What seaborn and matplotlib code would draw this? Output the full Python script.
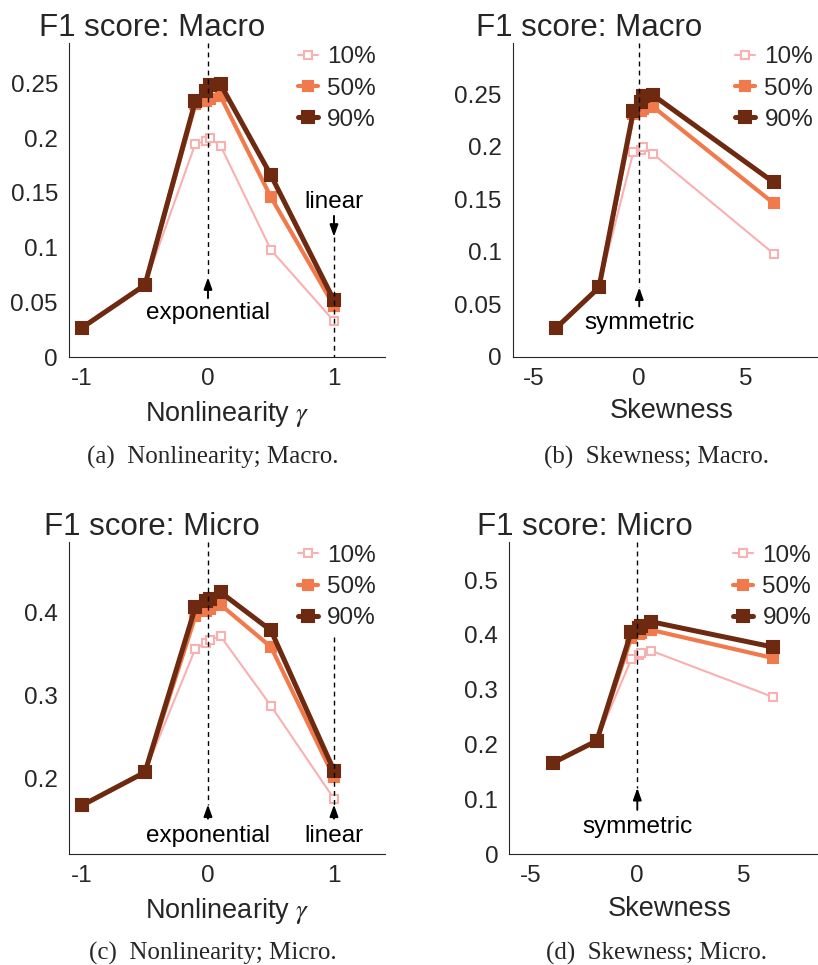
import numpy as np
import matplotlib
matplotlib.use("Agg")
import matplotlib.pyplot as plt
import pandas as pd
import seaborn as sns

# data
gamma = [-1, -0.5, -0.1, -0.015, 0.015, 0.1, 0.5, 1]
skew = [-3.94, -1.9, -0.28, 0.08, 0.18, 0.66, 6.35]   # same runs, gamma=1 left out

series = ["10%", "50%", "90%"]
macro = {
    "10%": [0.027, 0.066, 0.195, 0.197, 0.200, 0.193, 0.098, 0.033],
    "50%": [0.027, 0.066, 0.231, 0.234, 0.236, 0.238, 0.146, 0.047],
    "90%": [0.027, 0.066, 0.234, 0.243, 0.248, 0.249, 0.166, 0.052],
}
micro = {
    "10%": [0.167, 0.207, 0.356, 0.363, 0.367, 0.371, 0.287, 0.175],
    "50%": [0.167, 0.207, 0.395, 0.401, 0.404, 0.409, 0.358, 0.201],
    "90%": [0.167, 0.207, 0.406, 0.413, 0.416, 0.424, 0.378, 0.209],
}

colors = {"10%": "#f9b0b0", "50%": "#f07a4c", "90%": "#6e2a10"}
lws = {"10%": 1.5, "50%": 3.0, "90%": 3.6}
msz = {"10%": 6, "50%": 7.5, "90%": 8.5}
mfc = {"10%": "white", "50%": "#f07a4c", "90%": "#6e2a10"}

sns.set_style("white")
plt.rcParams["font.family"] = ["Liberation Sans", "DejaVu Sans"]
plt.rcParams["mathtext.fontset"] = "stix"
plt.rcParams["axes.unicode_minus"] = False

fig = plt.figure(figsize=(8.18, 9.65), dpi=100)
W, H = 818, 965


def add_axes(left, top, right, bottom):
    return fig.add_axes([left / W, 1 - bottom / H, (right - left) / W, (bottom - top) / H])


panels = [
    dict(box=(69, 43.3, 385, 357.3), x=gamma, d=macro, xlim=(-1.103, 1.405), ylim=(0, 0.2865),
         yt=[0, 0.05, 0.1, 0.15, 0.2, 0.25], xt=[-1, 0, 1], title="F1 score: Macro",
         xlabel=r"Nonlinearity $\gamma$", cap="(a)  Nonlinearity; Macro.", capx=213, capy=457,
         tx=-30, leg=0.725),
    dict(box=(512.7, 43.3, 830.7, 356.7), x=skew, d=macro, xlim=(-5.97, 9.03), ylim=(0, 0.2986),
         yt=[0, 0.05, 0.1, 0.15, 0.2, 0.25], xt=[-5, 0, 5], title="F1 score: Macro",
         xlabel="Skewness", cap="(b)  Skewness; Macro.", capx=657, capy=457,
         tx=-37, leg=0.70),
    dict(box=(69, 541.7, 385, 854.3), x=gamma, d=micro, xlim=(-1.103, 1.405), ylim=(0.108, 0.485),
         yt=[0.2, 0.3, 0.4], xt=[-1, 0, 1], title="F1 score: Micro",
         xlabel=r"Nonlinearity $\gamma$", cap="(c)  Nonlinearity; Micro.", capx=213, capy=953,
         tx=-25, leg=0.725),
    dict(box=(509.3, 541.7, 829.3, 854.3), x=skew, d=micro, xlim=(-6.0, 9.0), ylim=(0, 0.57),
         yt=[0, 0.1, 0.2, 0.3, 0.4, 0.5], xt=[-5, 0, 5], title="F1 score: Micro",
         xlabel="Skewness", cap="(d)  Skewness; Micro.", capx=657, capy=953,
         tx=-32, leg=0.70),
]

tick_fmt = lambda v: ("%g" % v)

axes = []
for p in panels:
    l, t, r, b = p["box"]
    ax = add_axes(l, t, r, b)
    n = len(p["x"])
    for s in series:
        sns.lineplot(x=p["x"], y=p["d"][s][:n], ax=ax, color=colors[s], lw=lws[s],
                     marker="s", markersize=msz[s], markerfacecolor=mfc[s],
                     markeredgecolor=colors[s], markeredgewidth=1.5, label=s, sort=False)
    ax.set_xlim(*p["xlim"])
    ax.set_ylim(*p["ylim"])
    ax.set_xticks(p["xt"])
    ax.set_xticklabels([tick_fmt(v) for v in p["xt"]])
    ax.set_yticks(p["yt"])
    ax.set_yticklabels([tick_fmt(v) for v in p["yt"]])
    ax.tick_params(direction="in", length=4, width=0.8, colors="#262626", labelsize=17.5, pad=8)
    for side in ["top", "right"]:
        ax.spines[side].set_visible(False)
    for side in ["left", "bottom"]:
        ax.spines[side].set_color("#262626")
        ax.spines[side].set_linewidth(0.8)
    ax.set_xlabel(p["xlabel"], fontsize=19.5, color="#262626", labelpad=6)
    ax.set_ylabel("")
    ax.text(p["tx"] / (r - l), 1.022, p["title"], transform=ax.transAxes, fontsize=22.5,
            color="#262626", ha="left", va="baseline")
    ax.legend(loc="upper left", bbox_to_anchor=(p["leg"], 0.99), frameon=False, fontsize=17.5,
              handlelength=0.8, handletextpad=0.4, labelspacing=0.38, borderpad=0, borderaxespad=0)
    fig.text(p["capx"] / W, 1 - p["capy"] / H, p["cap"], family="Liberation Serif", fontsize=18,
             ha="center", va="center")
    axes.append(ax)

ax_a, ax_b, ax_c, ax_d = axes
dash = dict(color="black", lw=1.0, ls=(0, (3.5, 3)))
arrow = dict(arrowstyle="-|>,head_length=0.7,head_width=0.25", color="black", lw=1.4,
             shrinkA=0, shrinkB=0)
afont = dict(fontsize=17.5, ha="center", va="center", color="black")

# (a)
ax_a.plot([0, 0], [0.2865, 0.073], **dash)
ax_a.annotate("", xy=(0, 0.073), xytext=(0, 0.054), arrowprops=arrow)
ax_a.text(0, 0.040, "exponential", **afont)
ax_a.plot([1, 1], [0.110, 0], **dash)
ax_a.annotate("", xy=(1, 0.110), xytext=(1, 0.129), arrowprops=arrow)
ax_a.text(1, 0.1417, "linear", **afont)
# (b)
ax_b.plot([0, 0], [0.2986, 0.066], **dash)
ax_b.annotate("", xy=(0, 0.066), xytext=(0, 0.048), arrowprops=arrow)
ax_b.text(0, 0.032, "symmetric", **afont)
# (c)
ax_c.plot([0, 0], [0.485, 0.168], **dash)
ax_c.annotate("", xy=(0, 0.168), xytext=(0, 0.151), arrowprops=arrow)
ax_c.text(0, 0.1296, "exponential", **afont)
ax_c.plot([1, 1], [0.3706, 0.168], **dash)
ax_c.annotate("", xy=(1, 0.168), xytext=(1, 0.151), arrowprops=arrow)
ax_c.text(1, 0.1296, "linear", **afont)
# (d)
ax_d.plot([0, 0], [0.57, 0.121], **dash)
ax_d.annotate("", xy=(0, 0.121), xytext=(0, 0.081), arrowprops=arrow)
ax_d.text(0, 0.050, "symmetric", **afont)

fig.savefig("out.png", dpi=100)
